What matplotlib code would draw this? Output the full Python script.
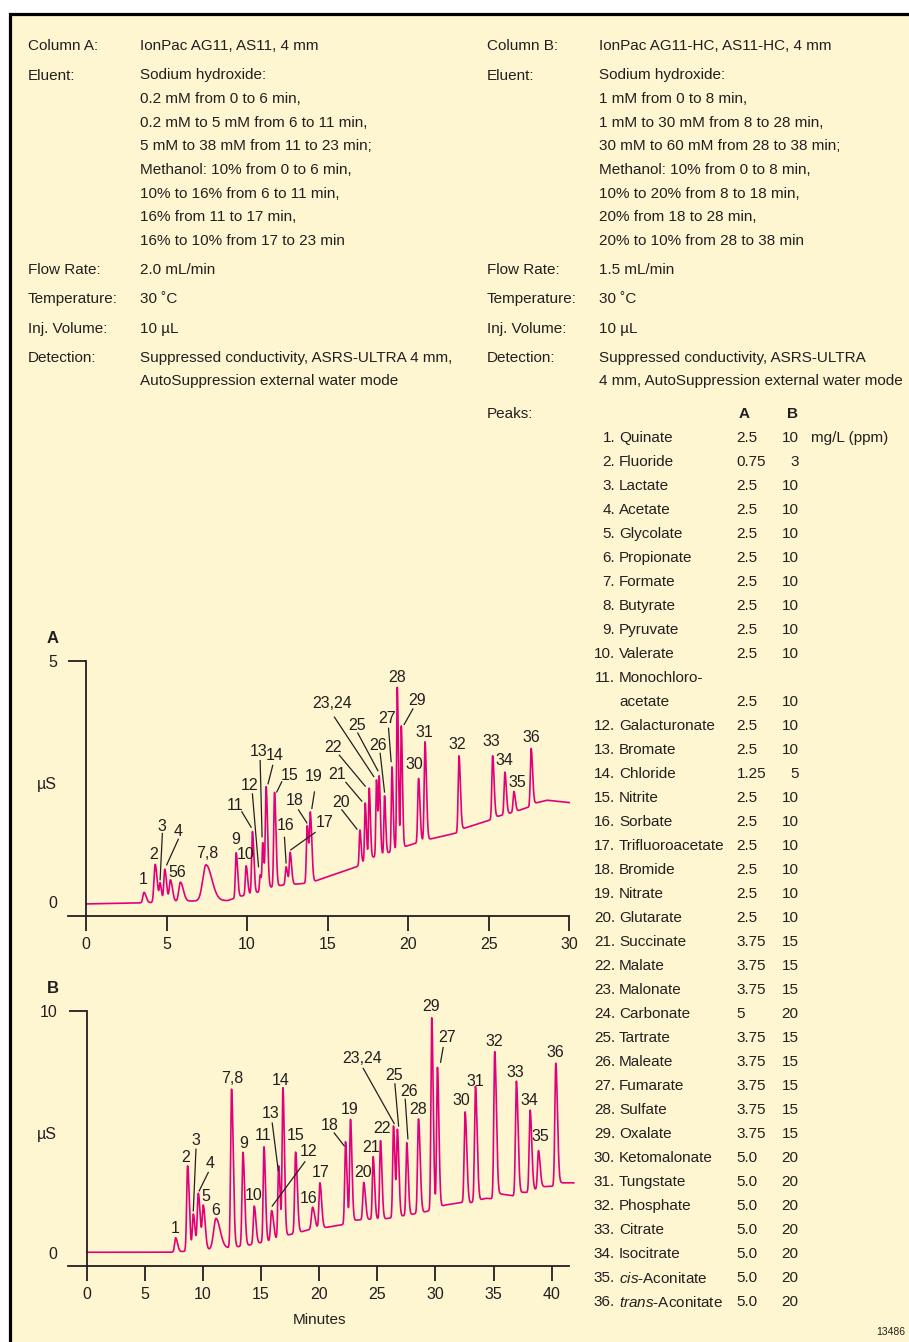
import numpy as np
import matplotlib
matplotlib.use("Agg")
import matplotlib.pyplot as plt
from matplotlib import font_manager
from matplotlib.patches import Rectangle

##### RUN CONDITIONS
keys_A = ["Column A:", "Eluent:", "Flow Rate:", "Temperature:", "Inj. Volume:", "Detection:"]
vals_A = [
    ["IonPac AG11, AS11, 4 mm"],
    ["Sodium hydroxide:",
     "0.2 mM from 0 to 6 min,",
     "0.2 mM to 5 mM from 6 to 11 min,",
     "5 mM to 38 mM from 11 to 23 min;",
     "Methanol: 10% from 0 to 6 min,",
     "10% to 16% from 6 to 11 min,",
     "16% from 11 to 17 min,",
     "16% to 10% from 17 to 23 min"],
    ["2.0 mL/min"],
    ["30 \u02daC"],
    ["10 \u00b5L"],
    ["Suppressed conductivity, ASRS-ULTRA 4 mm,",
     "AutoSuppression external water mode"],
]
keys_B = ["Column B:", "Eluent:", "Flow Rate:", "Temperature:", "Inj. Volume:", "Detection:"]
vals_B = [
    ["IonPac AG11-HC, AS11-HC, 4 mm"],
    ["Sodium hydroxide:",
     "1 mM from 0 to 8 min,",
     "1 mM to 30 mM from 8 to 28 min,",
     "30 mM to 60 mM from 28 to 38 min;",
     "Methanol: 10% from 0 to 8 min,",
     "10% to 20% from 8 to 18 min,",
     "20% from 18 to 28 min,",
     "20% to 10% from 28 to 38 min"],
    ["1.5 mL/min"],
    ["30 \u02daC"],
    ["10 \u00b5L"],
    ["Suppressed conductivity, ASRS-ULTRA",
     "4 mm, AutoSuppression external water mode"],
]

##### PEAK TABLE
names = ["Quinate", "Fluoride", "Lactate", "Acetate", "Glycolate", "Propionate",
         "Formate", "Butyrate", "Pyruvate", "Valerate", "Monochloro-\nacetate",
         "Galacturonate", "Bromate", "Chloride", "Nitrite", "Sorbate",
         "Trifluoroacetate", "Bromide", "Nitrate", "Glutarate", "Succinate",
         "Malate", "Malonate", "Carbonate", "Tartrate", "Maleate", "Fumarate",
         "Sulfate", "Oxalate", "Ketomalonate", "Tungstate", "Phosphate",
         "Citrate", "Isocitrate", r"$\mathit{cis}$-Aconitate",
         r"$\mathit{trans}$-Aconitate"]
conc_A = ["2.5", "0.75", "2.5", "2.5", "2.5", "2.5", "2.5", "2.5", "2.5", "2.5",
          "2.5", "2.5", "2.5", "1.25", "2.5", "2.5", "2.5", "2.5", "2.5", "2.5",
          "3.75", "3.75", "3.75", "5", "3.75", "3.75", "3.75", "3.75", "3.75",
          "5.0", "5.0", "5.0", "5.0", "5.0", "5.0", "5.0"]
conc_B = ["10", "3", "10", "10", "10", "10", "10", "10", "10", "10",
          "10", "10", "10", "5", "10", "10", "10", "10", "10", "10",
          "15", "15", "15", "20", "15", "15", "15", "15", "15",
          "20", "20", "20", "20", "20", "20", "20"]

##### CHROMATOGRAM A  (minutes, uS)
rt_A = [3.60, 4.29, 4.60, 4.89, 5.24, 5.86, 7.45, 9.32, 9.94, 10.33, 10.81, 10.97,
        11.18, 11.70, 12.42, 12.67, 13.73, 13.93, 17.00, 17.33, 17.58, 18.03,
        18.20, 18.53, 18.99, 19.32, 19.57, 20.64, 21.04, 23.15, 25.24, 26.00,
        26.56, 27.63]
apex_A = [0.20, 0.78, 0.40, 0.68, 0.46, 0.41, 0.77, 1.02, 0.75, 1.46, 0.56, 1.23,
          2.39, 2.27, 0.73, 1.03, 1.58, 1.86, 1.49, 2.05, 2.36, 2.53,
          2.61, 2.20, 2.80, 4.45, 3.65, 2.56, 3.32, 3.03, 3.03, 2.69,
          2.29, 3.18]
sig_A = [0.07, 0.07, 0.05, 0.06, 0.07, 0.10, 0.20, 0.05, 0.05, 0.05, 0.04, 0.04,
         0.05, 0.05, 0.05, 0.05, 0.05, 0.05, 0.04, 0.04, 0.04, 0.04,
         0.04, 0.04, 0.04, 0.04, 0.04, 0.05, 0.05, 0.05, 0.05, 0.05,
         0.05, 0.05]
base_t_A = [0, 3.3, 6.5, 8.8, 9.6, 10.5, 11.4, 12.2, 13.4, 14.1, 16.8, 17.5, 18.6,
            19.8, 20.8, 21.3, 23.0, 23.4, 25.1, 25.5, 26.3, 26.8, 27.5, 27.9,
            28.6, 30.0]
base_v_A = [-0.04, -0.02, 0.02, 0.03, 0.12, 0.18, 0.30, 0.35, 0.38, 0.42, 0.73,
            0.90, 1.00, 1.15, 1.25, 1.30, 1.43, 1.52, 1.70, 1.77, 1.84, 1.89,
            1.97, 2.05, 2.11, 2.06]

##### CHROMATOGRAM B  (minutes, uS)
rt_B = [7.65, 8.68, 9.17, 9.60, 10.03, 11.12, 12.46, 13.44, 14.41, 15.25, 15.91,
        16.51, 16.88, 17.97, 19.43, 20.06, 22.26, 22.69, 23.83, 24.64, 25.27,
        26.39, 26.73, 27.53, 28.54, 29.68, 30.17, 32.55, 33.44, 35.10, 36.96,
        38.14, 38.86, 40.35]
apex_B = [0.63, 3.60, 1.61, 2.47, 1.98, 1.43, 6.77, 4.16, 1.94, 4.39, 1.75,
          3.60, 6.83, 4.17, 1.89, 2.90, 4.60, 5.52, 2.92, 3.98, 4.64,
          5.25, 5.11, 4.56, 5.54, 9.72, 7.67, 5.83, 6.89, 8.32, 7.10,
          5.90, 4.23, 7.84]
sig_B = [0.09, 0.08, 0.08, 0.09, 0.09, 0.20, 0.08, 0.08, 0.08, 0.07, 0.09,
         0.07, 0.07, 0.08, 0.10, 0.08, 0.07, 0.07, 0.08, 0.07, 0.07,
         0.07, 0.07, 0.07, 0.08, 0.07, 0.07, 0.08, 0.08, 0.08, 0.08,
         0.08, 0.08, 0.08]
base_t_B = [0, 7.3, 11.8, 13.0, 14.0, 15.0, 16.1, 17.3, 18.5, 19.0, 20.5, 21.9,
            23.2, 24.3, 25.8, 28.1, 29.2, 30.8, 32.2, 33.0, 34.3, 34.9, 35.6,
            36.7, 37.5, 38.0, 38.5, 39.2, 40.1, 40.8, 41.9]
base_v_B = [0.03, 0.03, 0.19, 0.26, 0.33, 0.43, 0.51, 0.74, 0.88, 0.95, 1.05,
            1.16, 1.36, 1.39, 1.42, 1.61, 1.71, 1.98, 2.08, 2.07, 2.26, 2.24,
            2.44, 2.36, 2.51, 2.50, 2.60, 2.74, 2.76, 2.90, 2.90]

##### PEAK NUMBERS ON THE TRACES (text, x, y)
labels_A = [("1", 3.56, 0.49), ("2", 4.18, 1.02), ("3", 4.72, 1.59), ("4", 5.71, 1.49),
            ("56", 5.67, 0.64), ("7,8", 7.53, 1.04), ("9", 9.28, 1.33), ("10", 9.90, 1.02),
            ("11", 9.25, 2.04), ("12", 10.14, 2.44), ("13", 10.72, 3.14), ("14", 11.72, 3.07),
            ("15", 12.62, 2.65), ("16", 12.40, 1.61), ("17", 14.84, 1.68), ("18", 12.96, 2.13),
            ("19", 14.16, 2.63), ("20", 15.82, 2.09), ("21", 15.61, 2.68), ("22", 15.36, 3.23),
            ("23,24", 15.26, 4.14), ("25", 16.85, 3.68), ("26", 18.12, 3.27), ("27", 18.68, 3.83),
            ("28", 19.30, 4.69), ("29", 20.58, 4.20), ("30", 20.39, 2.87), ("31", 20.99, 3.55),
            ("32", 23.06, 3.29), ("33", 25.17, 3.36), ("34", 26.00, 2.96), ("35", 26.75, 2.51),
            ("36", 27.66, 3.43)]
leaders_A = [(4.74, 1.42, 4.60, 0.46), (5.73, 1.30, 5.01, 0.77), (9.67, 1.87, 10.25, 1.55),
             (10.33, 2.24, 10.71, 0.73), (10.81, 2.93, 10.93, 1.35), (11.59, 2.83, 11.30, 2.45),
             (12.15, 2.49, 11.84, 2.28), (12.32, 1.34, 12.42, 0.81), (14.22, 1.44, 12.71, 1.08),
             (13.19, 1.91, 13.71, 1.64), (14.18, 2.28, 14.02, 1.94), (15.88, 1.91, 16.82, 1.51),
             (16.13, 2.48, 17.12, 2.09), (15.73, 3.04, 17.33, 2.40), (15.42, 3.83, 17.86, 2.60),
             (16.87, 3.50, 18.12, 2.72), (18.26, 3.08, 18.53, 2.28), (18.78, 3.60, 18.94, 2.91),
             (20.29, 4.00, 19.75, 3.68)]
labels_B = [("1", 7.65, 1.06), ("2", 8.54, 4.01), ("3", 9.40, 4.70), ("4", 10.60, 3.78),
            ("5", 10.23, 2.38), ("6", 11.12, 1.83), ("7,8", 12.49, 7.26), ("9", 13.47, 4.59),
            ("10", 14.33, 2.45), ("11", 15.13, 4.90), ("12", 19.09, 4.26), ("13", 15.82, 5.81),
            ("14", 16.68, 7.21), ("15", 18.00, 4.92), ("16", 19.12, 2.33), ("17", 20.12, 3.37),
            ("18", 20.92, 5.33), ("19", 22.64, 6.00), ("20", 23.79, 3.37), ("21", 24.50, 4.44),
            ("22", 25.36, 5.22), ("23,24", 23.65, 8.11), ("25", 26.42, 7.39), ("26", 27.74, 6.74),
            ("27", 31.00, 8.97), ("28", 28.49, 5.98), ("29", 29.66, 10.25), ("30", 32.24, 6.35),
            ("31", 33.39, 7.15), ("32", 35.08, 8.79), ("33", 36.91, 7.52), ("34", 38.12, 6.38),
            ("35", 39.06, 4.88), ("36", 40.29, 8.33)]
leaders_B = [(9.40, 4.29, 9.17, 1.74), (10.46, 3.33, 9.68, 2.57), (18.77, 3.77, 15.96, 1.94),
             (15.96, 5.37, 16.48, 3.40), (21.29, 4.96, 22.15, 4.43), (23.79, 7.63, 26.45, 5.35),
             (26.51, 6.99, 26.83, 5.25), (27.40, 6.35, 27.63, 4.72), (30.66, 8.49, 30.44, 7.88)]


##### STYLE
W, H = 909, 1342
INK = "#231f20"
CREAM = "#fef6d1"
TRACE = "#e2007a"

installed = {f.name for f in font_manager.fontManager.ttflist}
if "Liberation Sans Narrow" in installed:
    FAM, FS = "Liberation Sans Narrow", 13
else:
    FAM, FS = "Liberation Sans", 11
plt.rcParams["font.family"] = [FAM, "DejaVu Sans"]
plt.rcParams["mathtext.fontset"] = "custom"
plt.rcParams["mathtext.rm"] = FAM
plt.rcParams["mathtext.it"] = FAM + ":italic"
plt.rcParams["text.color"] = INK


def trace(t, rt, apex, sig, bt, bv):
    # tailing gaussian peaks sitting on a drifting baseline
    def shape(x, c, s):
        s2 = np.where(x < c, s, 1.8 * s)
        return np.exp(-0.5 * ((x - c) / s2) ** 2)
    M = np.array([[float(shape(ti, c, s)) for c, s in zip(rt, sig)] for ti in rt])
    amp = np.linalg.solve(M, np.asarray(apex) - np.interp(rt, bt, bv))
    y = np.interp(t, bt, bv)
    for a, c, s in zip(amp, rt, sig):
        y = y + a * shape(t, c, s)
    return y


fig = plt.figure(figsize=(W / 100, H / 100), dpi=100)
fig.patch.set_facecolor("white")

# page layer in pixel units
pg = fig.add_axes([0, 0, 1, 1])
pg.set_xlim(0, W)
pg.set_ylim(H, 0)
pg.axis("off")
pg.add_patch(Rectangle((9.5, 13.5), 1000, 1400, facecolor=CREAM,
                       edgecolor="black", lw=2.3))


def txt(x, y, s, **kw):
    kw.setdefault("fontsize", FS)
    kw.setdefault("va", "center_baseline")
    pg.text(x, y, s, **kw)


def conditions(keys, vals, xk, xv):
    y = 44.7
    for k, lines in zip(keys, vals):
        txt(xk, y, k)
        for j, line in enumerate(lines):
            txt(xv, y + 23.6 * j, line)
        y += 23.6 * (len(lines) - 1) + 29.3


conditions(keys_A, vals_A, 28, 140)
conditions(keys_B, vals_B, 487, 599)

# peak table
txt(487, 412, "Peaks:")
txt(744, 413, "A", fontweight="bold", ha="center")
txt(793, 413, "B", fontweight="bold", ha="center")
row = 0
for i, (nm, ca, cb) in enumerate(zip(names, conc_A, conc_B)):
    y = 436.7 + 24 * row
    parts = nm.split("\n")
    txt(615, y, f"{i + 1}.", ha="right")
    for j, p in enumerate(parts):
        txt(619, y + 24 * j, p)
    y += 24 * (len(parts) - 1)
    txt(736.5, y, ca)
    txt(798.5, y, cb, ha="right")
    if i == 0:
        txt(811, y, "mg/L (ppm)")
    row += len(parts)


def chrom_axes(ox, kx, oy, ky, xlim, ylim):
    left, right = ox + xlim[0] * kx, ox + xlim[1] * kx
    top, bot = oy - ylim[1] * ky, oy - ylim[0] * ky
    ax = fig.add_axes([left / W, 1 - bot / H, (right - left) / W, (bot - top) / H])
    ax.set_xlim(xlim)
    ax.set_ylim(ylim)
    ax.patch.set_visible(False)
    return ax


def dress(ax, xticks, ytop, axis_y, x_left, x_right):
    for s in ("top", "right"):
        ax.spines[s].set_visible(False)
    for s in ("bottom", "left"):
        ax.spines[s].set_color(INK)
        ax.spines[s].set_linewidth(1.3)
    ax.spines["bottom"].set_position(("data", axis_y))
    ax.spines["bottom"].set_bounds(x_left, x_right)
    ax.spines["left"].set_position(("data", 0))
    ax.spines["left"].set_bounds(axis_y, ytop)
    ax.set_xticks(xticks)
    ax.set_yticks([0, ytop])
    ax.tick_params(axis="x", length=10.8, width=1.3, pad=4, labelsize=FS + 0.5,
                   color=INK, labelcolor=INK)
    ax.tick_params(axis="y", length=13, width=1.3, pad=8, labelsize=FS + 0.5,
                   color=INK, labelcolor=INK)
    ax.yaxis.get_major_ticks()[0].tick1line.set_visible(False)


def annotate(ax, labels, leaders):
    for s, x, y in labels:
        ax.text(x, y, s, fontsize=FS + 0.5, ha="center", va="center_baseline", clip_on=False)
    for x0, y0, x1, y1 in leaders:
        ax.plot([x0, x1], [y0, y1], color=INK, lw=0.9, clip_on=False)


##### PANEL A
axA = chrom_axes(86, 16.11, 902, 48.26, (-2, 31), (-0.8, 5.6))
tA = np.linspace(0, 30, 9000)
axA.plot(tA, trace(tA, rt_A, apex_A, sig_A, base_t_A, base_v_A), color=TRACE, lw=1.2)
dress(axA, [0, 5, 10, 15, 20, 25, 30], 5, -0.29, -1.12, 30)
annotate(axA, labels_A, leaders_A)

##### PANEL B
axB = chrom_axes(86.7, 11.625, 1253, 24.2, (-3, 43), (-1.6, 11.0))
tB = np.linspace(0, 41.9, 12000)
axB.plot(tB, trace(tB, rt_B, apex_B, sig_B, base_t_B, base_v_B), color=TRACE, lw=1.2)
dress(axB, [0, 5, 10, 15, 20, 25, 30, 35, 40], 10, -0.54, -1.58, 41.5)
annotate(axB, labels_B, leaders_B)

# panel letters, axis titles
txt(53, 637, "A", fontweight="bold", ha="center", fontsize=FS + 1)
txt(53, 987, "B", fontweight="bold", ha="center", fontsize=FS + 1)
txt(47, 783, "\u00b5S", ha="center", fontsize=FS + 0.5)
txt(47, 1133, "\u00b5S", ha="center", fontsize=FS + 0.5)
txt(320, 1318, "Minutes", ha="center")
txt(905, 1331, "13486", fontsize=7.5, ha="right")

fig.savefig("out.png", dpi=100)
